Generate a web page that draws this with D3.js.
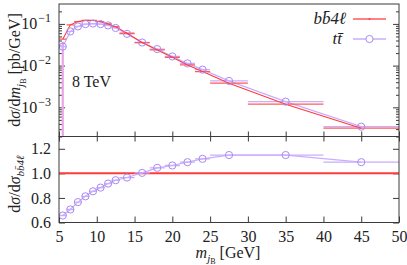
<!DOCTYPE html>
<html><head><meta charset="utf-8">
<script src="https://cdn.jsdelivr.net/npm/d3@7"></script>
<style>
body{margin:0;background:#fff;}
</style></head>
<body><svg id="c" width="407" height="265"></svg>
<script>
// ---- data ----
const binLo = [5,6,7,8,9,10,11,12,13,15,17,19,21,23,25,30,40];
const binHi = [6,7,8,9,10,11,12,13,15,17,19,21,23,25,30,40,50];
const binMid = [5.5,6.5,7.5,8.5,9.5,10.5,11.5,12.5,14,16,18,20,22,24,27.5,35,45];
const bb4l = [0.043,0.095,0.114,0.122,0.121,0.113,0.100,0.086,0.0597,0.0357,0.0238,0.0158,0.0104,0.0072,0.0038,0.00119,0.000316];
const ttbar = [0.0286,0.066,0.087,0.099,0.102,0.099,0.092,0.080,0.0577,0.0358,0.0249,0.0166,0.0113,0.0080,0.0043,0.00137,0.000344];
const ttErrUp = [0.009,0,0,0,0,0,0,0,0,0,0,0,0,0,0,0,0];
const ttErrDown = [0.0286,0,0,0,0,0,0,0,0,0,0,0,0,0,0,0,0];
const ratio = [0.657,0.706,0.766,0.813,0.854,0.884,0.917,0.944,0.966,1.004,1.045,1.064,1.091,1.118,1.149,1.149,1.091];
const xTicks = [5,10,15,20,25,30,35,40,45,50];
const logMajor = [1e-3,1e-2,1e-1];
const logMajorExp = ["−3","−2","−1"];
const ratioTicks = [0.6,0.8,1.0,1.2];

// ---- layout ----
const FONT="'Liberation Serif','Times New Roman',serif";
const L=59,R=399,T=4,M=136.5,B=222.5;
const svg=d3.select("#c");
const x=d3.scaleLinear([5,50],[L,R]);
const yT=d3.scaleLog([2e-4,0.3],[M,T]);
const yB=d3.scaleLinear([0.6,1.3],[B,M]);
const RED="#ff3b3b", REDL="#ff5a5a", VIO="#c9adff", VIOC="#a98af2", PINK="#e8a6e6", FR="#3a3a3a";

svg.append("defs").append("clipPath").attr("id","cpT").append("rect")
  .attr("x",L).attr("y",T).attr("width",R-L).attr("height",M-T);
svg.select("defs").append("clipPath").attr("id","cpB").append("rect")
  .attr("x",L).attr("y",M).attr("width",R-L).attr("height",B-M);

// ---- minor log ticks ----
const logMinor=[];
[1e-4,1e-3,1e-2,1e-1].forEach(d=>{for(let k=2;k<=9;k++){const v=d*k; if(v>=2e-4&&v<=0.3&&!logMajor.includes(v)) logMinor.push(v);}});

function styleAxis(g){g.select(".domain").remove();g.selectAll("line").attr("stroke",FR);
  g.attr("font-family",FONT);g.selectAll("text").attr("font-family",FONT).attr("font-size",16).attr("fill","#222");}

// top panel axes
svg.append("g").attr("transform",`translate(${L},0)`)
  .call(d3.axisLeft(yT).tickValues(logMajor).tickSizeInner(-6).tickFormat(()=>"")).call(styleAxis);
svg.append("g").attr("transform",`translate(${L},0)`)
  .call(d3.axisLeft(yT).tickValues(logMinor).tickSizeInner(-3).tickFormat(()=>"")).call(styleAxis);
svg.append("g").attr("transform",`translate(${R},0)`)
  .call(d3.axisRight(yT).tickValues(logMajor).tickSizeInner(-6).tickFormat(()=>"")).call(styleAxis);
svg.append("g").attr("transform",`translate(${R},0)`)
  .call(d3.axisRight(yT).tickValues(logMinor).tickSizeInner(-3).tickFormat(()=>"")).call(styleAxis);
svg.append("g").attr("transform",`translate(0,${M})`)
  .call(d3.axisBottom(x).tickValues(xTicks).tickSizeInner(-5).tickFormat(()=>"")).call(styleAxis);
svg.append("g").attr("transform",`translate(0,${M})`)
  .call(d3.axisBottom(x).tickValues(xTicks).tickSizeInner(5).tickFormat(()=>"")).call(styleAxis);

// log labels
logMajor.forEach((v,i)=>{
  const t=svg.append("text").attr("x",51).attr("y",yT(v)+5.5).attr("text-anchor","end")
    .attr("font-size",16).attr("font-family",FONT).attr("fill","#222");
  t.append("tspan").text("10");
  t.append("tspan").attr("font-size",12).attr("dx",1).attr("dy",-7).text(logMajorExp[i]);
});

// bottom panel axes
svg.append("g").attr("transform",`translate(${L},0)`)
  .call(d3.axisLeft(yB).tickValues(ratioTicks).tickSizeInner(-6).tickPadding(8).tickFormat(d3.format(".1f")))
  .call(styleAxis);
svg.append("g").attr("transform",`translate(${R},0)`)
  .call(d3.axisRight(yB).tickValues(ratioTicks).tickSizeInner(-6).tickFormat(()=>"")).call(styleAxis);
svg.append("g").attr("transform",`translate(0,${B})`)
  .call(d3.axisBottom(x).tickValues(xTicks).tickSizeInner(-6).tickPadding(8).tickFormat(d3.format("d")))
  .call(styleAxis);

// ---- top panel data ----
const gT=svg.append("g").attr("clip-path","url(#cpT)");
const idx=d3.range(binMid.length);
idx.filter(i=>ttErrUp[i]>0||ttErrDown[i]>0).forEach(i=>{
  const lo=ttbar[i]-ttErrDown[i];
  gT.append("line").attr("x1",x(binMid[i])).attr("x2",x(binMid[i]))
    .attr("y1",lo>2e-4?yT(lo):M).attr("y2",yT(ttbar[i]+ttErrUp[i]))
    .attr("stroke",PINK).attr("stroke-width",2.2);
});
gT.selectAll(".ttb").data(idx).join("line")
  .attr("x1",i=>x(binLo[i])).attr("x2",i=>x(binHi[i]))
  .attr("y1",i=>yT(ttbar[i])).attr("y2",i=>yT(ttbar[i]))
  .attr("stroke",VIO).attr("stroke-width",1.3);
gT.append("path").datum(idx)
  .attr("d",d3.line().x(i=>x(binMid[i])).y(i=>yT(ttbar[i])))
  .attr("fill","none").attr("stroke",VIO).attr("stroke-width",1.2);
gT.selectAll(".bbb").data(idx).join("line")
  .attr("x1",i=>x(binLo[i])).attr("x2",i=>x(binHi[i]))
  .attr("y1",i=>yT(bb4l[i])).attr("y2",i=>yT(bb4l[i]))
  .attr("stroke",REDL).attr("stroke-width",1.3);
gT.append("path").datum(idx)
  .attr("d",d3.line().x(i=>x(binMid[i])).y(i=>yT(bb4l[i])))
  .attr("fill","none").attr("stroke",RED).attr("stroke-width",1.1);
gT.selectAll(".ttc").data(idx).join("circle")
  .attr("cx",i=>x(binMid[i])).attr("cy",i=>yT(ttbar[i])).attr("r",3.6)
  .attr("fill","none").attr("stroke",VIOC).attr("stroke-width",1);

// ---- bottom panel data ----
const gB=svg.append("g").attr("clip-path","url(#cpB)");
gB.append("line").attr("x1",L).attr("x2",R).attr("y1",yB(1)).attr("y2",yB(1))
  .attr("stroke",RED).attr("stroke-width",2);
gB.selectAll(".rb").data(idx).join("line")
  .attr("x1",i=>x(binLo[i])).attr("x2",i=>x(binHi[i]))
  .attr("y1",i=>yB(ratio[i])).attr("y2",i=>yB(ratio[i]))
  .attr("stroke",VIO).attr("stroke-width",1.3);
gB.append("path").datum(idx)
  .attr("d",d3.line().x(i=>x(binMid[i])).y(i=>yB(ratio[i])))
  .attr("fill","none").attr("stroke",VIO).attr("stroke-width",1.2);
gB.selectAll(".rc").data(idx).join("circle")
  .attr("cx",i=>x(binMid[i])).attr("cy",i=>yB(ratio[i])).attr("r",3.6)
  .attr("fill","none").attr("stroke",VIOC).attr("stroke-width",1);

// frames
svg.append("rect").attr("x",L).attr("y",T).attr("width",R-L).attr("height",M-T)
  .attr("fill","none").attr("stroke",FR).attr("stroke-width",1);
svg.append("rect").attr("x",L).attr("y",M).attr("width",R-L).attr("height",B-M)
  .attr("fill","none").attr("stroke",FR).attr("stroke-width",1);

// ---- text helper ----
function addText(parent,xx,yy,anchor,parts,size,rot){
  const t=parent.append("text").attr("x",xx).attr("y",yy).attr("text-anchor",anchor)
    .attr("font-size",size).attr("font-family",FONT).attr("fill","#222");
  if(rot) t.attr("transform",`rotate(-90,${xx},${yy})`);
  parts.forEach(p=>{
    const s=t.append("tspan").text(p.t);
    if(p.i) s.attr("font-style","italic");
    if(p.s) s.attr("font-size",p.s);
    if(p.dy) s.attr("dy",p.dy);
  });
  return t;
}
// ---- legend ----
addText(svg,346,24,"end",[{t:"bb\u03044",i:1},{t:"ℓ",i:1}],17);
svg.append("line").attr("x1",353).attr("x2",386).attr("y1",19).attr("y2",19).attr("stroke",REDL).attr("stroke-width",1.3);
svg.append("circle").attr("cx",369.5).attr("cy",19).attr("r",1).attr("fill",RED);
addText(svg,342,44,"end",[{t:"tt\u0304",i:1}],17);
svg.append("line").attr("x1",353).attr("x2",386).attr("y1",39).attr("y2",39).attr("stroke",VIO).attr("stroke-width",1.3);
svg.append("circle").attr("cx",369.5).attr("cy",39).attr("r",3.6).attr("fill","#fff").attr("stroke",VIOC);

addText(svg,72,87,"start",[{t:"8 TeV"}],16);

// axis titles
addText(svg,20,70,"middle",[{t:"d"},{t:"σ",i:1},{t:"/d"},{t:"m",i:1},{t:"j",i:1,s:11,dy:4},{t:"B",s:8,dy:1.5},{t:" [pb/GeV]",dy:-5.5}],16,true);
addText(svg,20,184,"middle",[{t:"d"},{t:"σ",i:1},{t:"/d"},{t:"σ",i:1},{t:"bb\u03044ℓ",i:1,s:11,dy:4}],16,true);
addText(svg,228,258,"middle",[{t:"m",i:1},{t:"j",i:1,s:11,dy:4},{t:"B",s:8,dy:1.5},{t:" [GeV]",dy:-5.5}],16);
</script></body></html>
